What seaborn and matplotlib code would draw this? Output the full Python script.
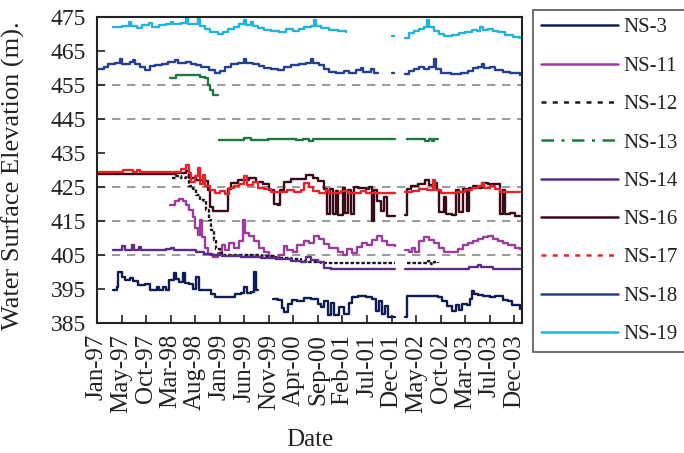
"""Water surface elevation hydrographs for the NS wells, 1997-2004"""

import matplotlib
matplotlib.use("Agg")
import matplotlib.pyplot as plt
from matplotlib.lines import Line2D
import numpy as np
import pandas as pd
import seaborn as sns

# --- data (None = gap in the record) ---
ns3_dates = ['1997-04-08', '1997-05-01', '1997-05-10', '1997-06-01', '1997-06-20', '1997-07-20',
             '1997-08-10', '1997-09-10', '1997-10-20', '1997-11-20', '1998-01-01', '1998-01-15',
             '1998-02-10', '1998-02-28', '1998-03-20', '1998-04-15', '1998-05-01', '1998-05-20',
             '1998-06-10', '1998-06-20', '1998-07-20', '1998-08-10', '1998-09-01', '1998-09-15',
             '1998-10-10', '1998-11-10', '1998-12-01', '1998-12-20', '1999-04-10', '1999-04-25',
             '1999-06-01', '1999-06-20', '1999-07-05', '1999-08-01', '1999-08-20', '1999-09-01',
             '1999-09-11', '1999-10-01',
             '1999-12-11', '2000-01-15', '2000-02-05', '2000-02-20', '2000-03-12', '2000-04-05',
             '2000-05-10', '2000-06-20', '2000-08-01', '2000-09-10', '2000-10-01', '2000-10-20',
             '2000-11-10', '2000-12-01', '2000-12-20', '2001-01-20', '2001-02-20', '2001-03-20',
             '2001-04-10', '2001-05-13', '2001-07-01', '2001-08-10', '2001-09-01', '2001-09-20',
             '2001-10-10', '2001-10-25', '2001-11-13', '2001-12-26', '2002-01-10',
             '2002-02-28', '2002-03-09', '2002-09-15', '2002-10-10', '2002-11-10', '2002-12-10',
             '2003-01-01', '2003-01-20', '2003-02-10', '2003-03-10', '2003-04-01', '2003-04-11',
             '2003-04-25', '2003-05-20', '2003-06-20', '2003-08-01', '2003-09-01', '2003-10-15',
             '2003-11-20', '2003-12-12', '2004-01-29']
ns3_elev = [394.7, 395.5, 400.1, 398.6, 397.6, 398.2,
            397.4, 396.2, 396.4, 394.7, 395.6, 394.7,
            395.5, 394.7, 397.6, 399.7, 398.0, 397.2,
            399.8, 396.8, 396.4, 395.0, 398.4, 394.7,
            394.6, 394.8, 393.6, 392.7, 392.6, 393.6,
            393.8, 395.6, 393.8, 394.2, 400.0, 394.6,
            394.6, None,
            392.2, 391.8, 389.5, 388.3, 390.5, 391.8,
            391.5, 392.3, 392.0, 390.6, 389.7, 391.5,
            387.4, 391.0, 387.4, 389.8, 387.6, 390.8,
            392.6, 392.8, 392.6, 392.0, 388.5, 391.5,
            387.6, 390.0, 386.9, 386.8, None,
            386.8, 392.8, 392.6, 391.6, 390.0, 388.4,
            390.4, 388.8, 390.6, 390.2, 392.0, 394.4,
            393.6, 393.2, 393.0, 392.5, 392.8, 391.8,
            391.5, 390.2, 389.0]

ns11_dates = ['1998-03-23', '1998-04-20', '1998-05-15', '1998-06-10', '1998-07-01', '1998-07-20',
              '1998-08-10', '1998-08-25', '1998-09-10', '1998-09-25', '1998-10-05', '1998-10-20',
              '1998-11-10', '1998-12-10', '1999-01-10', '1999-02-01', '1999-02-20', '1999-03-20',
              '1999-04-20', '1999-05-20', '1999-06-10', '1999-06-25', '1999-07-20', '1999-08-20',
              '1999-09-20', '1999-10-20', '1999-11-20', '1999-12-20', '2000-01-20', '2000-02-15',
              '2000-03-10', '2000-04-10', '2000-05-10', '2000-06-20', '2000-07-20', '2000-08-20',
              '2000-09-20', '2000-10-20', '2000-11-20', '2001-01-10', '2001-02-10', '2001-03-10',
              '2001-04-10', '2001-05-10', '2001-06-10', '2001-07-10', '2001-08-10', '2001-09-10',
              '2001-10-10', '2001-11-10', '2001-12-26', '2002-01-10',
              '2002-02-28', '2002-03-20', '2002-04-10', '2002-05-01', '2002-05-20', '2002-06-20',
              '2002-07-20', '2002-08-20', '2002-09-20', '2002-10-20', '2002-12-01', '2003-01-15',
              '2003-02-15', '2003-03-20', '2003-04-20', '2003-05-20', '2003-06-20', '2003-07-20',
              '2003-08-20', '2003-09-20', '2003-10-20', '2003-11-20', '2004-01-01', '2004-01-29']
ns11_elev = [419.8, 421.0, 421.5, 420.8, 419.8, 418.2,
             416.3, 413.0, 411.0, 415.2, 410.2, 407.0,
             405.2, 404.5, 405.5, 408.0, 406.5, 408.5,
             407.2, 409.0, 415.3, 411.5, 410.5, 409.0,
             407.2, 405.8, 404.8, 404.2, 405.0, 407.5,
             406.5, 405.8, 407.8, 409.2, 408.4, 410.5,
             409.6, 408.2, 407.0, 406.0, 405.0, 406.8,
             405.6, 407.4, 408.4, 408.0, 409.4, 410.6,
             409.2, 407.8, 407.6, None,
             406.5, 406.0, 407.2, 405.8, 409.2, 410.2,
             409.4, 408.4, 407.2, 406.0, 405.8, 406.8,
             407.8, 408.4, 409.0, 409.8, 410.2, 410.6,
             409.6, 409.0, 408.6, 408.0, 407.2, 406.8]

ns12_dates = ['1998-04-04', '1998-05-01', '1998-06-01', '1998-07-01', '1998-07-15', '1998-08-10',
              '1998-09-01', '1998-09-20', '1998-10-15', '1998-11-01', '1998-11-15', '1998-12-01',
              '1998-12-15', '1999-01-01', '1999-01-20', '1999-02-10', '1999-06-01', '1999-10-01',
              '2000-01-01', '2000-04-01', '2000-06-01', '2000-07-20', '2000-10-01', '2001-12-26',
              '2002-01-10',
              '2002-03-09', '2002-07-01', '2002-07-15', '2002-08-01', '2002-08-20', '2002-09-15']
ns12_elev = [427.5, 428.2, 427.6, 428.3, 425.2, 424.3,
             422.5, 421.2, 420.8, 418.2, 415.3, 412.4,
             409.4, 406.8, 405.6, 405.0, 404.9, 404.6,
             404.2, 403.8, 403.2, 402.8, 402.5, 402.5,
             None,
             402.6, 402.7, 403.2, 402.3, 403.0, 402.5]

ns13_dates = ['1998-03-23', '1998-05-01', '1998-09-20', '1998-10-20', '1998-11-10', '1998-11-25',
              '1998-12-10', '1999-01-10', '1999-01-12',
              '1999-01-15', '1999-06-01', '1999-06-20', '1999-08-01', '1999-11-10', '2000-03-01',
              '2000-05-01', '2000-06-10', '2000-07-01', '2000-07-20', '2000-08-10', '2001-12-26',
              '2002-01-10',
              '2002-03-09', '2002-06-15', '2002-07-01', '2002-07-25', '2002-08-10', '2002-08-25',
              '2002-09-15']
ns13_elev = [457.2, 457.9, 457.3, 457.0, 455.0, 453.5,
             452.2, 452.1, None,
             438.8, 438.9, 439.3, 438.9, 439.2, 439.0,
             438.7, 439.1, 439.1, 438.5, 439.1, 439.1,
             None,
             439.1, 439.1, 438.4, 439.1, 438.4, 439.1,
             439.1]

ns14_dates = ['1997-04-08', '1997-05-20', '1997-06-01', '1997-06-20', '1997-08-01', '1997-08-15',
              '1997-09-15', '1997-09-25', '1998-03-01', '1998-04-01', '1998-04-15', '1998-08-01',
              '1998-09-01', '1998-10-15', '1998-12-01', '1999-02-01', '1999-06-01', '1999-10-01',
              '2000-01-01', '2000-04-01', '2000-06-01', '2000-07-01', '2000-08-01', '2000-09-10',
              '2000-10-20', '2000-12-01', '2001-12-26', '2002-01-10',
              '2002-02-28', '2003-03-01', '2003-03-25', '2003-05-01', '2003-05-20', '2003-06-05',
              '2003-07-20', '2003-08-20', '2004-01-29']
ns14_elev = [406.5, 406.5, 407.6, 406.5, 407.8, 406.6,
             407.3, 406.5, 406.7, 407.2, 406.5, 406.5,
             406.0, 405.4, 405.0, 404.6, 404.4, 404.2,
             403.7, 403.2, 403.0, 404.4, 403.6, 402.8,
             401.2, 400.8, 400.8, None,
             400.8, 400.8, 401.6, 401.4, 402.0, 401.4,
             401.6, 401.0, 400.9]

ns16_dates = ['1997-01-01', '1998-04-01', '1998-05-01', '1998-07-01', '1998-07-20', '1998-09-01',
              '1998-10-15', '1998-11-10', '1998-11-25', '1998-12-10', '1999-03-05', '1999-03-15',
              '1999-04-01', '1999-05-10', '1999-07-20', '1999-09-01', '1999-10-10', '1999-11-20',
              '1999-12-20', '2000-01-10', '2000-01-25', '2000-02-20', '2000-04-01', '2000-06-01',
              '2000-07-01', '2000-08-15', '2000-09-15', '2000-10-20', '2000-11-05', '2000-11-25',
              '2000-12-10', '2001-01-01', '2001-01-15', '2001-02-10', '2001-02-25', '2001-03-15',
              '2001-04-05', '2001-04-20', '2001-05-13', '2001-07-01', '2001-07-20', '2001-08-10',
              '2001-08-20', '2001-09-10', '2001-10-01', '2001-10-20', '2001-11-05', '2001-12-26',
              '2002-01-10',
              '2002-02-28', '2002-03-09', '2002-04-01', '2002-05-15', '2002-07-01', '2002-07-20',
              '2002-08-20', '2002-09-10', '2002-09-20', '2002-10-20', '2002-11-01', '2002-12-10',
              '2003-01-01', '2003-01-20', '2003-02-15', '2003-03-10', '2003-03-25', '2003-04-20',
              '2003-05-20', '2003-06-10', '2003-07-20', '2003-09-10', '2003-09-30', '2003-10-15',
              '2003-11-01', '2003-12-01', '2004-01-01', '2004-01-29']
ns16_elev = [428.7, 428.7, 429.2, 429.6, 427.6, 427.2,
             426.8, 424.0, 419.2, 417.8, 418.0, 424.5,
             426.2, 427.2, 427.5, 426.6, 425.8, 424.2,
             420.0, 419.6, 424.0, 426.5, 427.4, 427.4,
             428.4, 427.6, 426.8, 424.5, 417.0, 424.5,
             417.2, 423.8, 416.8, 424.8, 417.4, 424.0,
             417.0, 425.0, 424.6, 424.4, 425.0, 415.0,
             424.2, 421.0, 418.0, 422.0, 416.5, 416.5,
             None,
             416.8, 424.4, 425.4, 425.8, 427.0, 425.6,
             426.2, 424.0, 417.5, 422.0, 417.0, 416.8,
             424.0, 417.5, 424.5, 418.0, 424.8, 425.2,
             424.6, 426.2, 425.8, 426.0, 417.2, 424.0,
             417.0, 417.4, 416.4, 416.4]

ns17_dates = ['1997-01-01', '1997-05-20', '1997-06-10', '1997-08-10', '1997-09-01', '1997-09-20',
              '1998-04-01', '1998-06-01', '1998-07-01', '1998-07-15', '1998-08-01', '1998-08-20',
              '1998-09-10', '1998-09-20', '1998-10-10', '1998-10-25', '1998-11-20', '1998-12-20',
              '1999-01-20', '1999-02-20', '1999-03-20', '1999-04-20', '1999-05-20', '1999-06-20',
              '1999-07-05', '1999-08-10', '1999-09-10', '1999-10-20', '1999-12-01', '2000-01-20',
              '2000-03-10', '2000-04-20', '2000-06-01', '2000-06-20', '2000-07-20', '2000-08-10',
              '2000-09-20', '2000-11-01', '2000-11-20', '2001-02-01', '2001-03-15', '2001-06-01',
              '2001-07-01', '2001-12-26', '2002-01-10',
              '2002-02-28', '2002-04-10', '2002-05-20', '2002-07-10', '2002-08-15', '2002-08-30',
              '2002-10-01', '2003-01-10', '2003-03-01', '2003-04-10', '2003-05-20', '2003-06-10',
              '2003-06-25', '2003-08-01', '2003-09-01', '2003-10-01', '2004-01-29']
ns17_elev = [429.3, 429.3, 429.9, 429.3, 429.9, 429.3,
             429.5, 430.2, 431.5, 429.0, 426.5, 428.2,
             430.6, 426.0, 428.5, 425.4, 424.0, 423.3,
             423.8, 423.0, 424.6, 425.4, 426.0, 428.2,
             425.6, 426.4, 424.8, 424.3, 423.6, 423.5,
             424.2, 423.6, 424.2, 426.2, 425.0, 423.8,
             423.3, 424.0, 423.3, 423.8, 423.3, 423.9,
             423.3, 423.3, None,
             423.4, 423.8, 424.5, 424.2, 427.0, 424.0,
             423.3, 423.4, 424.0, 424.7, 425.2, 426.2,
             424.8, 425.4, 424.4, 423.5, 423.4]

ns18_dates = ['1997-01-01', '1997-02-15', '1997-03-10', '1997-04-20', '1997-05-20', '1997-06-01',
              '1997-07-20', '1997-08-10', '1997-08-20', '1997-09-20', '1997-10-20', '1997-11-20',
              '1997-12-20', '1998-02-01', '1998-03-10', '1998-04-20', '1998-05-10', '1998-07-01',
              '1998-08-01', '1998-09-01', '1998-10-01', '1998-11-15', '1998-12-20', '1999-01-20',
              '1999-02-20', '1999-04-01', '1999-05-10', '1999-06-20', '1999-07-01', '1999-08-10',
              '1999-09-20', '1999-10-20', '1999-12-01', '2000-01-15', '2000-02-20', '2000-04-01',
              '2000-05-20', '2000-07-01', '2000-08-01', '2000-08-15', '2000-09-20', '2000-10-20',
              '2000-11-20', '2001-01-01', '2001-02-20', '2001-03-20', '2001-05-01', '2001-06-01',
              '2001-06-15', '2001-08-01', '2001-08-20', '2001-09-13', '2001-09-20',
              '2001-12-08', '2001-12-20', '2001-12-26',
              '2002-02-28', '2002-03-20', '2002-04-20', '2002-05-20', '2002-06-20', '2002-07-20',
              '2002-08-20', '2002-09-01', '2002-10-01', '2002-12-01', '2003-02-01', '2003-03-15',
              '2003-04-20', '2003-05-20', '2003-06-10', '2003-06-25', '2003-08-01', '2003-09-01',
              '2003-10-15', '2003-12-01', '2004-01-29']
ns18_elev = [459.8, 460.2, 461.2, 461.6, 462.5, 461.3,
             461.8, 462.4, 461.2, 460.3, 459.5, 460.6,
             460.8, 461.3, 461.7, 462.3, 461.6, 461.7,
             461.2, 461.0, 460.2, 459.3, 458.5, 459.2,
             460.4, 461.2, 461.5, 462.6, 461.6, 461.2,
             460.6, 460.1, 459.6, 459.4, 460.4, 461.0,
             461.2, 461.6, 462.7, 461.5, 461.0, 459.8,
             458.8, 458.6, 459.2, 458.6, 459.4, 460.0,
             458.9, 459.6, 458.6, 458.6, None,
             458.4, 458.4, None,
             458.3, 459.2, 459.6, 460.3, 459.8, 460.2,
             462.7, 459.8, 458.6, 458.3, 458.6, 459.2,
             460.0, 460.4, 461.2, 460.0, 460.4, 459.4,
             458.9, 458.6, 458.0]

ns19_dates = ['1997-04-08', '1997-06-01', '1997-07-15', '1997-07-25', '1997-09-01', '1997-10-01',
              '1997-11-15', '1997-12-01', '1998-01-15', '1998-03-01', '1998-04-01', '1998-04-10',
              '1998-06-01', '1998-07-01', '1998-07-10', '1998-09-10', '1998-09-20', '1998-10-20',
              '1998-11-20', '1999-01-10', '1999-02-10', '1999-03-10', '1999-04-20', '1999-05-20',
              '1999-06-20', '1999-07-01', '1999-08-01', '1999-08-10', '1999-09-10', '1999-10-20',
              '1999-12-01', '2000-01-20', '2000-03-01', '2000-04-15', '2000-05-20', '2000-06-20',
              '2000-08-01', '2000-08-20', '2000-09-01', '2000-10-01', '2000-11-20', '2001-01-10',
              '2001-03-01', '2001-03-05',
              '2001-12-08', '2001-12-20', '2001-12-26',
              '2002-02-28', '2002-03-20', '2002-04-20', '2002-05-20', '2002-06-20', '2002-07-10',
              '2002-07-20', '2002-08-20', '2002-09-20', '2002-10-20', '2002-12-10', '2003-01-20',
              '2003-03-01', '2003-04-10', '2003-05-10', '2003-06-01', '2003-06-20', '2003-07-20',
              '2003-08-20', '2003-09-20', '2003-11-01', '2003-12-15', '2004-01-29']
ns19_elev = [472.0, 472.3, 473.5, 472.4, 471.8, 472.6,
             473.3, 472.2, 472.6, 472.9, 473.6, 472.8,
             473.2, 474.6, 472.8, 474.7, 472.4, 471.6,
             470.6, 470.0, 470.5, 471.6, 472.2, 472.8,
             474.0, 472.6, 473.6, 472.4, 471.8, 471.3,
             470.8, 470.6, 471.5, 471.0, 471.6, 472.2,
             472.4, 474.0, 472.3, 471.8, 471.2, 471.0,
             470.5, None,
             469.3, 469.3, None,
             468.8, 470.3, 471.0, 471.4, 472.0, 474.0,
             472.2, 471.0, 470.0, 469.4, 469.6, 470.2,
             470.6, 471.2, 471.0, 472.2, 471.2, 471.4,
             470.8, 470.5, 469.8, 469.0, 468.7]

wells = ['NS-3', 'NS-11', 'NS-12', 'NS-13', 'NS-14', 'NS-16', 'NS-17', 'NS-18', 'NS-19']
well_dates = [ns3_dates, ns11_dates, ns12_dates, ns13_dates, ns14_dates,
              ns16_dates, ns17_dates, ns18_dates, ns19_dates]
well_elev = [ns3_elev, ns11_elev, ns12_elev, ns13_elev, ns14_elev,
             ns16_elev, ns17_elev, ns18_elev, ns19_elev]

tick_labels = ['Jan-97', 'May-97', 'Oct-97', 'Mar-98', 'Aug-98', 'Jan-99', 'Jun-99', 'Nov-99',
               'Apr-00', 'Sep-00', 'Feb-01', 'Jul-01', 'Dec-01', 'May-02', 'Oct-02', 'Mar-03',
               'Jul-03', 'Dec-03']
y_ticks = [385, 395, 405, 415, 425, 435, 445, 455, 465, 475]
grid_levels = [405, 415, 425, 445, 455]

# --- styles ---
colors = {'NS-3': '#101d52', 'NS-11': '#9b3c9e', 'NS-12': '#1a1a1a', 'NS-13': '#1d7a3e',
          'NS-14': '#5b2d88', 'NS-16': '#3a0a16', 'NS-17': '#e8222b', 'NS-18': '#253f93',
          'NS-19': '#22b4de'}
plot_ls = {'NS-12': (0, (1.5, 0.8))}
legend_ls = {'NS-12': (0, (2, 2.5)), 'NS-13': (0, (5, 3, 1.2, 3)), 'NS-17': (0, (2, 2.5))}

frames = []
for name, d, v in zip(wells, well_dates, well_elev):
    df = pd.DataFrame({'date': pd.to_datetime(d),
                       'elev': np.array(v, dtype=float), 'well': name})
    df['seg'] = df['elev'].isna().cumsum()
    frames.append(df.dropna())
data = pd.concat(frames, ignore_index=True)

sns.set_style('white')
plt.rcParams['font.family'] = ['Liberation Serif', 'DejaVu Serif']

fig = plt.figure(figsize=(6.84, 4.53), dpi=100)
ax = fig.add_axes([0.1418, 0.287, 0.6214, 0.6755])

for lvl in grid_levels:
    ax.axhline(lvl, color='#8a8a8a', lw=1.2, ls=(0, (5, 4)), zorder=0)

for name in wells:
    sub = data[data['well'] == name]
    sns.lineplot(data=sub, x='date', y='elev', units='seg', estimator=None,
                 color=colors[name], lw=1.7, drawstyle='steps-post',
                 linestyle=plot_ls.get(name, '-'), legend=False, ax=ax)

start = pd.Timestamp('1997-01-01')
tick_pos = [start + pd.Timedelta(days=150 * i) for i in range(len(tick_labels))]
ax.set_xlim(start, start + pd.Timedelta(days=2597))
ax.set_xticks(tick_pos)
ax.set_xticklabels(tick_labels, rotation=90)
ax.set_ylim(385, 475)
ax.set_yticks(y_ticks)

ax.tick_params(axis='both', direction='in', length=6, width=1.2, colors='#222222',
               labelsize=17, pad=8, left=True, bottom=True)
ax.tick_params(axis='x', labelsize=18)
for sp in ax.spines.values():
    sp.set_color('#222222')
    sp.set_linewidth(1.5)

ax.set_xlabel('Date', fontsize=18, color='#222222')
ax.set_ylabel('Water Surface Elevation (m).', fontsize=19, color='#222222')
ax.xaxis.set_label_coords(0.5, -0.345)
ax.yaxis.set_label_coords(-0.17, 0.48)

handles = [Line2D([], [], color=colors[n], lw=1.8, ls=legend_ls.get(n, '-')) for n in wells]
leg = fig.legend(handles, wells, loc='upper left',
                 bbox_to_anchor=(533 / 684, 1 - 10 / 453, 0.25, 0.0), mode='expand',
                 bbox_transform=fig.transFigure, borderaxespad=0, fontsize=15,
                 handlelength=3.7, handletextpad=0.25, labelspacing=0.9, borderpad=0.38,
                 fancybox=False, framealpha=1)
leg.get_frame().set_edgecolor('#555555')
leg.get_frame().set_linewidth(1.2)
for t in leg.get_texts():
    t.set_color('#222222')

fig.savefig('out.png', dpi=100)
